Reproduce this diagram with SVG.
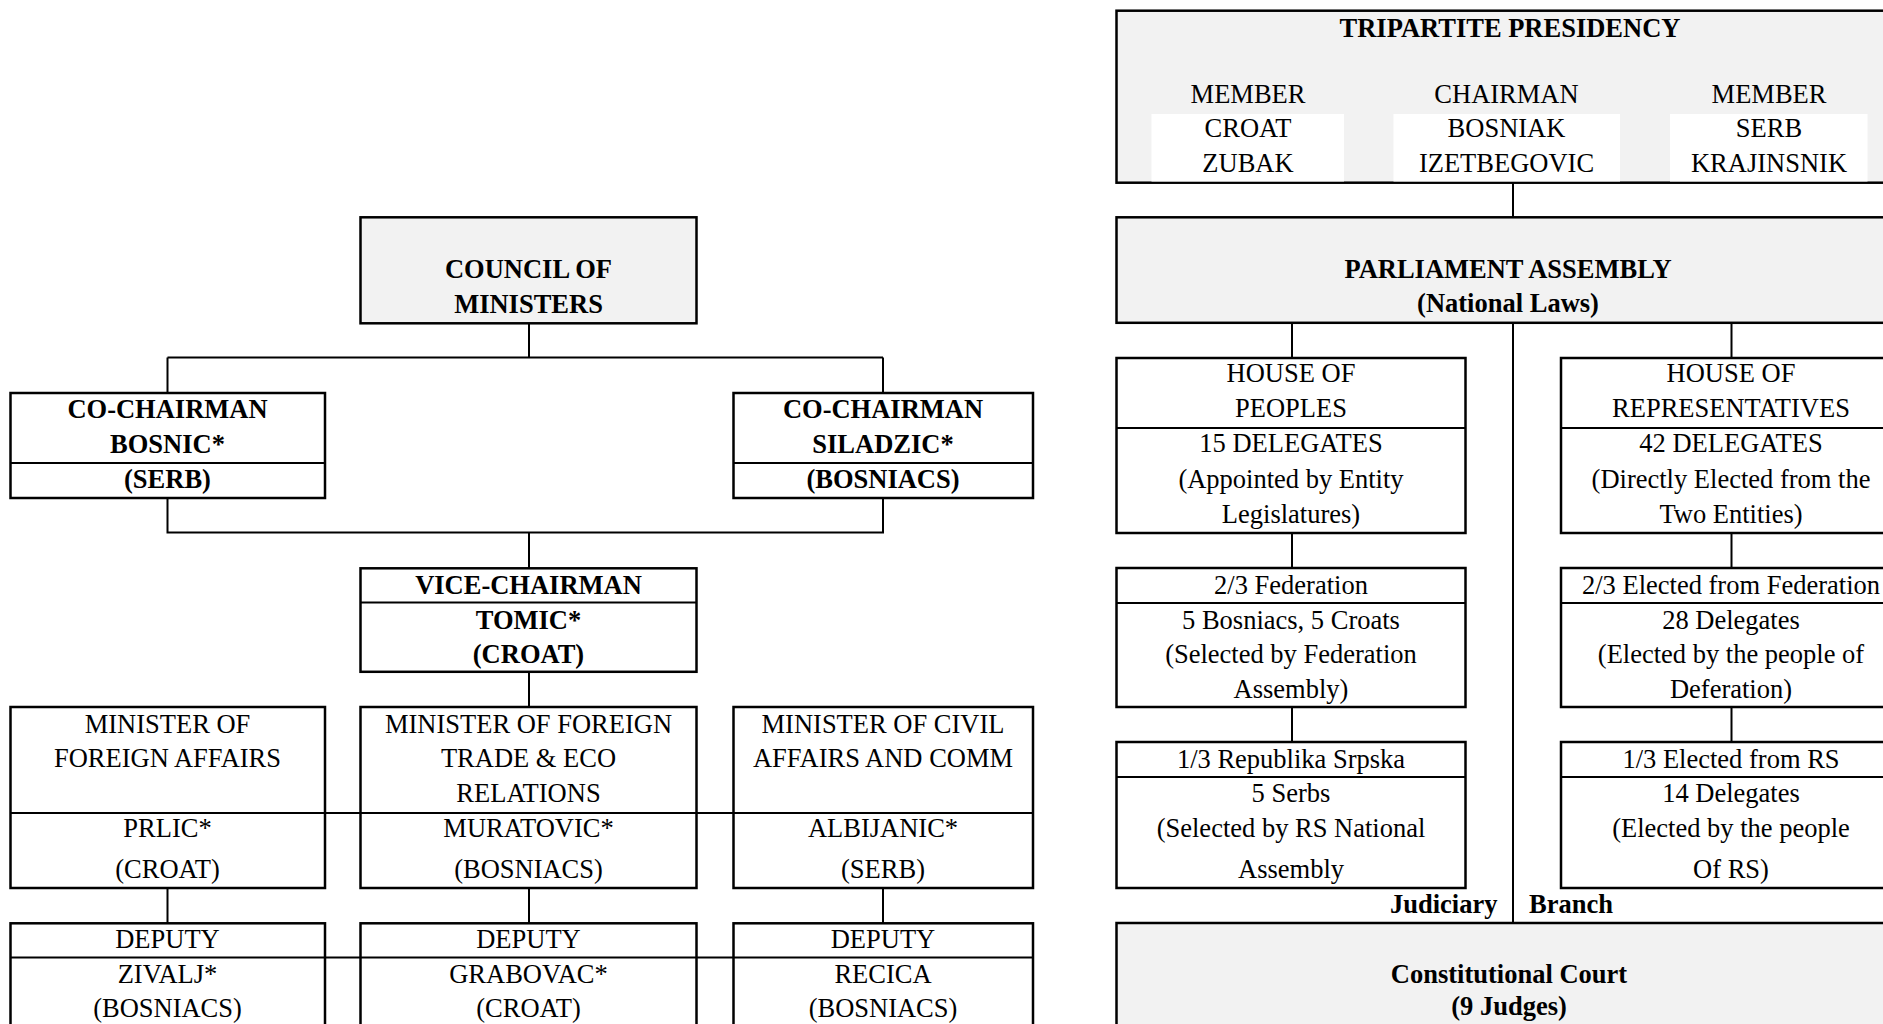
<svg xmlns="http://www.w3.org/2000/svg" width="1883" height="1024" viewBox="0 0 1883 1024">
<style>
text{font-family:"Liberation Serif","Times New Roman",serif;font-size:26.5px;fill:#000;text-anchor:middle}
.b{font-weight:bold}
.box{fill:#fff;stroke:#000;stroke-width:2.5}
.gbox{fill:#f2f2f2;stroke:#000;stroke-width:2.5}
.ln{stroke:#000;stroke-width:2;fill:none}
.wb{fill:#fff;stroke:none}
</style>
<rect width="1883" height="1024" fill="#fff"/>
<g id="connectors">
<path class="ln" d="M529 323V357.5M167.5 357.5H883M167.5 357.5V393M883 357.5V393"/>
<path class="ln" d="M167.5 498V532.5H883V498M529 532.5V568"/>
<path class="ln" d="M529 672V707"/>
<path class="ln" d="M167.5 888V923M529 888V923M883 888V923"/>
<path class="ln" d="M1513 183V217"/>
<path class="ln" d="M1292 323V358M1731.5 323V358M1513 323V923"/>
<path class="ln" d="M1292 533V568M1731.5 533V568M1292 707V742M1731.5 707V742"/>
</g>
<g id="council">
<rect class="gbox" x="360.5" y="217.3" width="336" height="106"/>
<text class="b" x="528.5" y="278">COUNCIL OF</text>
<text class="b" x="528.5" y="312.5">MINISTERS</text>
</g>
<g id="cochair-bosnic">
<rect class="box" x="10.5" y="393" width="314.5" height="105"/>
<line class="ln" x1="10.5" y1="463" x2="325" y2="463"/>
<text class="b" x="167.5" y="417.5">CO-CHAIRMAN</text>
<text class="b" x="167.5" y="452.5">BOSNIC*</text>
<text class="b" x="167.5" y="487.5">(SERB)</text>
</g>
<g id="cochair-siladzic">
<rect class="box" x="733.5" y="393" width="299.5" height="105"/>
<line class="ln" x1="733.5" y1="463" x2="1033" y2="463"/>
<text class="b" x="883" y="417.5">CO-CHAIRMAN</text>
<text class="b" x="883" y="452.5">SILADZIC*</text>
<text class="b" x="883" y="487.5">(BOSNIACS)</text>
</g>
<g id="vice-chairman">
<rect class="box" x="360.5" y="568.3" width="336" height="103.5"/>
<line class="ln" x1="360.5" y1="602.5" x2="696.5" y2="602.5"/>
<text class="b" x="528.5" y="593.5">VICE-CHAIRMAN</text>
<text class="b" x="528.5" y="628.5">TOMIC*</text>
<text class="b" x="528.5" y="663">(CROAT)</text>
</g>
<g id="ministers">
<rect class="box" x="10.5" y="707" width="314.5" height="181"/>
<rect class="box" x="360.5" y="707" width="336" height="181"/>
<rect class="box" x="733.5" y="707" width="299.5" height="181"/>
<line class="ln" x1="10.5" y1="813" x2="1033" y2="813"/>
</g>
<g id="minister-foreign">
<text x="167.5" y="732.5">MINISTER OF</text>
<text x="167.5" y="767">FOREIGN AFFAIRS</text>
<text x="167.5" y="837">PRLIC*</text>
<text x="167.5" y="877.5">(CROAT)</text>
</g>
<g id="minister-trade">
<text x="528.5" y="732.5">MINISTER OF FOREIGN</text>
<text x="528.5" y="767">TRADE &amp; ECO</text>
<text x="528.5" y="802">RELATIONS</text>
<text x="528.5" y="837">MURATOVIC*</text>
<text x="528.5" y="877.5">(BOSNIACS)</text>
</g>
<g id="minister-civil">
<text x="883" y="732.5">MINISTER OF CIVIL</text>
<text x="883" y="767">AFFAIRS AND COMM</text>
<text x="883" y="837">ALBIJANIC*</text>
<text x="883" y="877.5">(SERB)</text>
</g>
<g id="deputies">
<rect class="box" x="10.5" y="923.3" width="314.5" height="130"/>
<rect class="box" x="360.5" y="923.3" width="336" height="130"/>
<rect class="box" x="733.5" y="923.3" width="299.5" height="130"/>
<line class="ln" x1="10.5" y1="957.5" x2="1033" y2="957.5"/>
</g>
<g id="deputy-zivalj">
<text x="167.5" y="947.5">DEPUTY</text>
<text x="167.5" y="983">ZIVALJ*</text>
<text x="167.5" y="1017">(BOSNIACS)</text>
</g>
<g id="deputy-grabovac">
<text x="528.5" y="947.5">DEPUTY</text>
<text x="528.5" y="983">GRABOVAC*</text>
<text x="528.5" y="1017">(CROAT)</text>
</g>
<g id="deputy-recica">
<text x="883" y="947.5">DEPUTY</text>
<text x="883" y="983">RECICA</text>
<text x="883" y="1017">(BOSNIACS)</text>
</g>
<g id="presidency">
<rect class="gbox" x="1116.5" y="10.7" width="800" height="172"/>
<rect class="wb" x="1151.5" y="114" width="192.5" height="67.5"/>
<rect class="wb" x="1393.5" y="114" width="226.5" height="67.5"/>
<rect class="wb" x="1670" y="114" width="197.5" height="67.5"/>
<text class="b" x="1510" y="36.5">TRIPARTITE PRESIDENCY</text>
<text x="1248" y="103">MEMBER</text>
<text x="1506.5" y="103">CHAIRMAN</text>
<text x="1769" y="103">MEMBER</text>
<text x="1248" y="137">CROAT</text>
<text x="1506.5" y="137">BOSNIAK</text>
<text x="1769" y="137">SERB</text>
<text x="1248" y="171.5">ZUBAK</text>
<text x="1506.5" y="171.5">IZETBEGOVIC</text>
<text x="1769" y="171.5">KRAJINSNIK</text>
</g>
<g id="parliament">
<rect class="gbox" x="1116.5" y="217.3" width="800" height="105.5"/>
<text class="b" x="1508" y="277.5">PARLIAMENT ASSEMBLY</text>
<text class="b" x="1508" y="312">(National Laws)</text>
</g>
<g id="house-peoples">
<rect class="box" x="1116.5" y="358" width="349" height="175"/>
<line class="ln" x1="1116.5" y1="428" x2="1465.5" y2="428"/>
<text x="1291" y="382">HOUSE OF</text>
<text x="1291" y="417">PEOPLES</text>
<text x="1291" y="452">15 DELEGATES</text>
<text x="1291" y="487.5">(Appointed by Entity</text>
<text x="1291" y="522.5">Legislatures)</text>
</g>
<g id="house-representatives">
<rect class="box" x="1561" y="358" width="360" height="175"/>
<line class="ln" x1="1561" y1="428" x2="1921" y2="428"/>
<text x="1731" y="382">HOUSE OF</text>
<text x="1731" y="417">REPRESENTATIVES</text>
<text x="1731" y="452">42 DELEGATES</text>
<text x="1731" y="487.5">(Directly Elected from the</text>
<text x="1731" y="522.5">Two Entities)</text>
</g>
<g id="federation-peoples">
<rect class="box" x="1116.5" y="568" width="349" height="139"/>
<line class="ln" x1="1116.5" y1="603" x2="1465.5" y2="603"/>
<text x="1291" y="593.5">2/3 Federation</text>
<text x="1291" y="628.5">5 Bosniacs, 5 Croats</text>
<text x="1291" y="663">(Selected by Federation</text>
<text x="1291" y="698">Assembly)</text>
</g>
<g id="federation-reps">
<rect class="box" x="1561" y="568" width="360" height="139"/>
<line class="ln" x1="1561" y1="603" x2="1921" y2="603"/>
<text x="1731" y="593.5">2/3 Elected from Federation</text>
<text x="1731" y="628.5">28 Delegates</text>
<text x="1731" y="663">(Elected by the people of</text>
<text x="1731" y="698">Deferation)</text>
</g>
<g id="rs-peoples">
<rect class="box" x="1116.5" y="742" width="349" height="146"/>
<line class="ln" x1="1116.5" y1="777" x2="1465.5" y2="777"/>
<text x="1291" y="767.5">1/3 Republika Srpska</text>
<text x="1291" y="802">5 Serbs</text>
<text x="1291" y="837">(Selected by RS National</text>
<text x="1291" y="877.5">Assembly</text>
</g>
<g id="rs-reps">
<rect class="box" x="1561" y="742" width="360" height="146"/>
<line class="ln" x1="1561" y1="777" x2="1921" y2="777"/>
<text x="1731" y="767.5">1/3 Elected from RS</text>
<text x="1731" y="802">14 Delegates</text>
<text x="1731" y="837">(Elected by the people</text>
<text x="1731" y="877.5">Of RS)</text>
</g>
<g id="judiciary-label">
<text class="b" x="1497.5" y="913" style="text-anchor:end">Judiciary</text>
<text class="b" x="1529" y="913" style="text-anchor:start">Branch</text>
</g>
<g id="constitutional-court">
<rect class="gbox" x="1116.5" y="923" width="800" height="140"/>
<text class="b" x="1509" y="982.5">Constitutional Court</text>
<text class="b" x="1509" y="1014.5">(9 Judges)</text>
</g>
</svg>
